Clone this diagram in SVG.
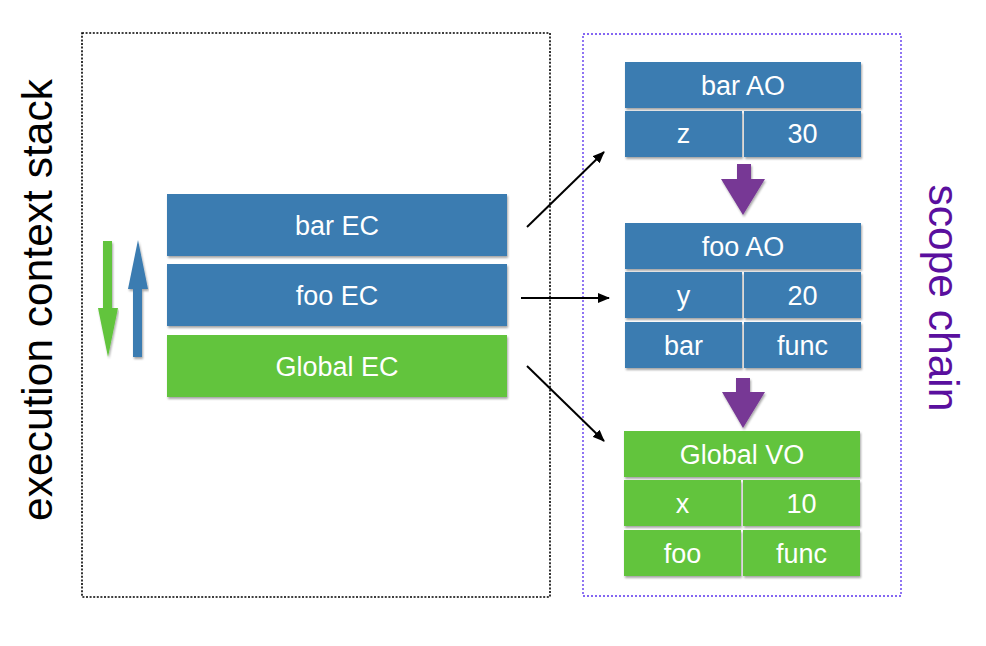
<svg xmlns="http://www.w3.org/2000/svg" width="986" height="646" viewBox="0 0 986 646">
<defs>
<filter id="sh" x="-5%" y="-10%" width="110%" height="130%">
<feDropShadow dx="1" dy="2" stdDeviation="1" flood-color="#000" flood-opacity="0.35"/>
</filter>
<marker id="ah" viewBox="0 0 12 10" refX="11" refY="5" markerWidth="12" markerHeight="10" markerUnits="userSpaceOnUse" orient="auto">
<path d="M0,0 L12,5 L0,10 Z" fill="#000"/>
</marker>
</defs>
<style>
.blue{fill:#3b7cb1;filter:url(#sh)}
.green{fill:#62c43c;filter:url(#sh)}
.purple{fill:#773895;filter:url(#sh)}
.t{font-family:"Liberation Sans",Arial,sans-serif;font-size:27px;fill:#fff;text-anchor:middle}
.big{font-family:"Liberation Sans",Arial,sans-serif;font-size:42.5px;text-anchor:middle}
.conn{stroke:#000;stroke-width:2;fill:none;marker-end:url(#ah)}
</style>
<rect width="986" height="646" fill="#fff"/>

<g id="stack-frame">
<rect x="82" y="33" width="468" height="564" fill="none" stroke="#000" stroke-width="1.6" stroke-dasharray="2,1.6"/>
</g>
<g id="scope-frame">
<rect x="583" y="34" width="318" height="562" fill="none" stroke="#8466f2" stroke-width="1.8" stroke-dasharray="2,2"/>
</g>

<text id="stack-label" class="big" fill="#000" transform="translate(52,300) rotate(-90)">execution context stack</text>
<text id="scope-label" class="big" fill="#5a0f9e" transform="translate(929,298) rotate(90)">scope chain</text>

<g id="push-pop">
<path class="green" d="M103,241 H112 V308 H118 L108,357 L98,308 H103 Z"/>
<path class="blue" d="M133,357 H142 V289 H148 L138,240 L128,289 H133 Z"/>
</g>

<g id="bar-ec"><rect class="blue" x="167" y="194" width="340" height="62"/><text class="t" x="337" y="235">bar EC</text></g>
<g id="foo-ec"><rect class="blue" x="167" y="264" width="340" height="62"/><text class="t" x="337" y="305">foo EC</text></g>
<g id="global-ec"><rect class="green" x="167" y="335" width="340" height="62"/><text class="t" x="337" y="376">Global EC</text></g>

<g id="bar-ao">
<rect class="blue" x="625" y="62" width="236" height="46"/><text class="t" x="743" y="95">bar AO</text>
<rect class="blue" x="625" y="111" width="117" height="46"/><text class="t" x="683.5" y="143">z</text>
<rect class="blue" x="744" y="111" width="117" height="46"/><text class="t" x="802.5" y="143">30</text>
</g>

<g id="foo-ao">
<rect class="blue" x="625" y="223" width="236" height="46"/><text class="t" x="743" y="256">foo AO</text>
<rect class="blue" x="625" y="272" width="117" height="46"/><text class="t" x="683.5" y="305">y</text>
<rect class="blue" x="744" y="272" width="117" height="46"/><text class="t" x="802.5" y="305">20</text>
<rect class="blue" x="625" y="322" width="117" height="46"/><text class="t" x="683.5" y="355">bar</text>
<rect class="blue" x="744" y="322" width="117" height="46"/><text class="t" x="802.5" y="355">func</text>
</g>

<g id="global-vo">
<rect class="green" x="624" y="431" width="236" height="46"/><text class="t" x="742" y="464">Global VO</text>
<rect class="green" x="624" y="480" width="117" height="46"/><text class="t" x="682.5" y="513">x</text>
<rect class="green" x="743" y="480" width="117" height="46"/><text class="t" x="801.5" y="513">10</text>
<rect class="green" x="624" y="530" width="117" height="46"/><text class="t" x="682.5" y="563">foo</text>
<rect class="green" x="743" y="530" width="117" height="46"/><text class="t" x="801.5" y="563">func</text>
</g>

<g id="chain-arrows">
<path class="purple" d="M737,164 H751 V179 H765 L743,215 L721,179 H737 Z"/>
<path class="purple" d="M736,378 H750 V392 H765 L743,428 L722,392 H736 Z"/>
</g>

<g id="connectors">
<line class="conn" x1="527" y1="227" x2="604" y2="152"/>
<line class="conn" x1="521" y1="298" x2="609" y2="298"/>
<line class="conn" x1="527" y1="366" x2="604" y2="441"/>
</g>
</svg>
